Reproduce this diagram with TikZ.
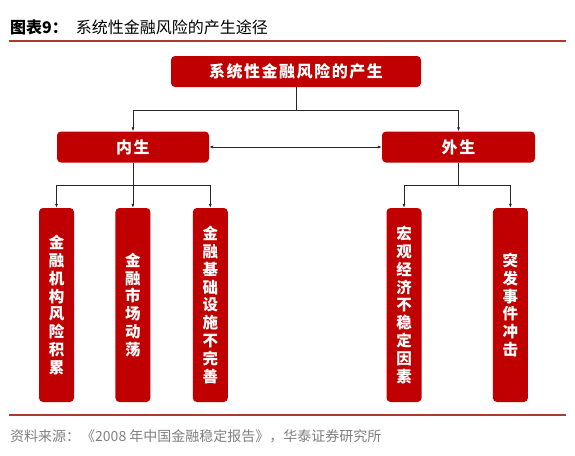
\documentclass[tikz,border=0pt]{standalone}
\usepackage{fontspec}
\setmainfont{Liberation Sans}
\newfontfamily\cjk{Noto Sans CJK SC}
\newfontfamily\cjkwide{Noto Sans CJK SC}[LetterSpace=9.5]
\usepackage{xcolor}
\usepackage{tikz}
\usetikzlibrary{positioning}
\usetikzlibrary{arrows.meta}
\definecolor{boxred}{RGB}{192,0,0}
\definecolor{rulered}{RGB}{172,58,46}
\definecolor{srcgray}{RGB}{128,128,128}

\begin{document}
\begin{tikzpicture}
                    [
                    x=1pt, y=-1pt,
                    >={Latex[length=4pt,width=3pt]},
                    rect1/.style={shape = rectangle, fill=boxred, rounded corners=4pt, text=white, inner sep=0pt},
                    hbox/.style={rect1, minimum height = 31pt, font=\cjkwide\bfseries\fontsize{16}{18}\selectfont},
                    vbox/.style={rect1, minimum width = 35pt, minimum height = 194pt, align = center, font=\cjk\bfseries\fontsize{15.5}{17.8}\selectfont},
                    link/.style={draw=black!85, line width=0.7pt},
                    ]
                    \useasboundingbox (0,0) rectangle (575,455);
                    % % 标题
                    \node[anchor=west, inner sep=0pt] (title) at (10,27) {\cjk\fontsize{16}{18}\selectfont {\bfseries 图表9：}\hspace{8pt}系统性金融风险的产生途径};
                    \draw[rulered, line width=1.6pt] (9,41) -- (566,41);
                    %
                    \node[hbox, minimum width = 250pt] (产生) at (296,71.5) {系统性金融风险的产生};
                    \node[hbox, minimum width = 152pt] (内生) at (133,147) {内生};
                    \node[hbox, minimum width = 153pt] (外生) at (458.5,147) {外生};
                    %
                    \node[vbox] (机构) at (56.5,305) {金\\融\\机\\构\\风\\险\\积\\累};
                    \node[vbox, right=41pt of 机构] (市场) {金\\融\\市\\场\\动\\荡};
                    \node[vbox, right=42pt of 市场] (基础) {金\\融\\基\\础\\设\\施\\不\\完\\善};
                    \node[vbox] (宏观) at (404,305) {宏\\观\\经\\济\\不\\稳\\定\\因\\素};
                    \node[vbox, right=71pt of 宏观] (突发) {突\\发\\事\\件\\冲\\击};
                    %
                    \draw[link, ->] (产生.south) -- ++(0,23) -| (内生.north);
                    \draw[link, ->] (产生.south) -- ++(0,23) -| (外生.north);
                    \path[link, <->] (内生) edge (外生);
                    \draw[link, ->] (内生.south) -- ++(0,23) -| (机构.north);
                    \draw[link, ->] (内生.south) -- ++(0,23) -| (市场.north);
                    \draw[link, ->] (内生.south) -- ++(0,23) -| (基础.north);
                    \draw[link, ->] (外生.south) -- ++(0,23) -| (宏观.north);
                    \draw[link, ->] (外生.south) -- ++(0,23) -| (突发.north);
                    % % 资料来源
                    \draw[rulered, line width=1.6pt] (9,415) -- (566,415);
                    \node[anchor=west, inner sep=0pt, text=srcgray] (来源) at (10,436) {\cjk\fontsize{14}{16}\selectfont 资料来源：\hspace{1pt}《2008 年中国金融稳定报告》，华泰证券研究所};
                \end{tikzpicture}
\end{document}
